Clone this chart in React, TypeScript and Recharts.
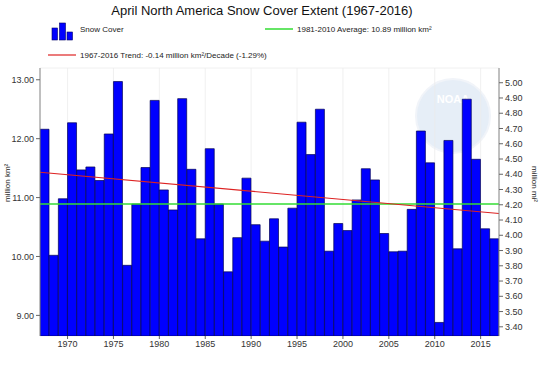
import { Bar, BarChart, CartesianGrid, ReferenceLine, XAxis, YAxis } from "recharts";

const years = [
	1967, 1968, 1969, 1970, 1971, 1972, 1973, 1974, 1975, 1976,
	1977, 1978, 1979, 1980, 1981, 1982, 1983, 1984, 1985, 1986,
	1987, 1988, 1989, 1990, 1991, 1992, 1993, 1994, 1995, 1996,
	1997, 1998, 1999, 2000, 2001, 2002, 2003, 2004, 2005, 2006,
	2007, 2008, 2009, 2010, 2011, 2012, 2013, 2014, 2015, 2016,
];

// million km²
const extent = [
	12.16, 10.02, 10.98, 12.27, 11.47, 11.52, 11.29, 12.08, 12.97, 9.85,
	10.89, 11.51, 12.65, 11.13, 10.79, 12.68, 11.48, 10.3, 11.83, 10.89,
	9.74, 10.32, 11.33, 10.54, 10.26, 10.64, 10.16, 10.82, 12.28, 11.73,
	12.5, 10.09, 10.56, 10.44, 10.96, 11.49, 11.3, 10.39, 10.08, 10.09,
	10.8, 12.13, 11.59, 8.88, 11.97, 10.13, 12.67, 11.65, 10.47, 10.3,
];

const average = 10.89;
const trendStart = { year: 1967, value: 11.43 };
const trendEnd = { year: 2017, value: 10.73 };

const kmTicks = [9, 10, 11, 12, 13];
const miTicks = [3.4, 3.5, 3.6, 3.7, 3.8, 3.9, 4.0, 4.1, 4.2, 4.3, 4.4, 4.5, 4.6, 4.7, 4.8, 4.9, 5.0];
const yearTicks = [1970, 1975, 1980, 1985, 1990, 1995, 2000, 2005, 2010, 2015];

const KM_PER_MI = 2.59;
const kmDomain: [number, number] = [8.65, 13.2];
const miDomain: [number, number] = [kmDomain[0] / KM_PER_MI, kmDomain[1] / KM_PER_MI];

const data = years.map((y, i) => ({ x: y + 0.5, year: y, extent: extent[i] }));

const FONT = "'Liberation Sans', Arial, sans-serif";
const tickStyle = { fill: "#333", fontSize: 9, fontFamily: FONT };

export default function App() {
	return (
		<div style={{ position: "relative", width: 540, height: 365, background: "#fff", fontFamily: FONT }}>
			<style>{`body{margin:0}`}</style>
			<div style={{ position: "absolute", top: 3, left: 0, width: 524, textAlign: "center", fontSize: 13, color: "#111" }}>
				April North America Snow Cover Extent (1967-2016)
			</div>
			{/* NOAA watermark */}
			<div
				style={{
					position: "absolute",
					left: 415,
					top: 78,
					width: 72,
					height: 72,
					borderRadius: "50%",
					background: "#e6eef7",
					border: "2px solid #f1f4f9",
					color: "#fff",
					fontSize: 11,
					fontWeight: "bold",
					textAlign: "center",
					lineHeight: "38px",
				}}
			>
				NOAA
			</div>
			{/* legend */}
			<svg style={{ position: "absolute", left: 0, top: 0 }} width={540} height={68}>
				<rect x={52} y={28} width={5.5} height={12} fill="#0000ff" stroke="#000066" strokeWidth={0.6} />
				<rect x={59.5} y={23} width={6} height={17} fill="#0000ff" stroke="#000066" strokeWidth={0.6} />
				<rect x={67} y={32} width={5.5} height={8} fill="#0000ff" stroke="#000066" strokeWidth={0.6} />
				<text x={80} y={32} fontSize={8} fill="#222" fontFamily={FONT}>Snow Cover</text>
				<line x1={265} x2={293} y1={29} y2={29} stroke="#33dd33" strokeWidth={1.5} />
				<text x={297} y={32} fontSize={8} fill="#222" fontFamily={FONT}>1981-2010 Average: 10.89 million km²</text>
				<line x1={48} x2={76} y1={55} y2={55} stroke="#dd2222" strokeWidth={1.2} />
				<text x={80} y={58} fontSize={8} fill="#222" fontFamily={FONT}>1967-2016 Trend: -0.14 million km²/Decade (-1.29%)</text>
			</svg>
			<BarChart
				width={540}
				height={365}
				data={data}
				margin={{ top: 68, right: 0, left: 0, bottom: 0 }}
				barCategoryGap={0}
				barGap={0}
				style={{ position: "absolute", left: 0, top: 0 }}
			>
				<CartesianGrid stroke="#ececec" strokeWidth={0.8} />
				<XAxis
					dataKey="x"
					type="number"
					domain={[1967, 2017]}
					ticks={yearTicks}
					allowDataOverflow
					height={29}
					tick={tickStyle}
					tickSize={3}
					tickLine={{ stroke: "#666" }}
					axisLine={false}
				/>
				<YAxis
					yAxisId="km"
					domain={kmDomain}
					ticks={kmTicks}
					allowDataOverflow
					width={40}
					tick={tickStyle}
					tickSize={4}
					tickLine={{ stroke: "#666" }}
					axisLine={{ stroke: "#888" }}
					tickFormatter={(v: number) => v.toFixed(2)}
					label={{ value: "million km²", angle: -90, position: "insideLeft", offset: 7, fontSize: 8, fill: "#222", fontFamily: FONT }}
				/>
				<YAxis
					yAxisId="mi"
					orientation="right"
					domain={miDomain}
					ticks={miTicks}
					allowDataOverflow
					width={41}
					tick={tickStyle}
					tickSize={4}
					tickLine={{ stroke: "#666" }}
					axisLine={{ stroke: "#888" }}
					tickFormatter={(v: number) => v.toFixed(2)}
					label={{ value: "million mi²", angle: 90, position: "insideRight", offset: 5, fontSize: 8, fill: "#222", fontFamily: FONT }}
				/>
				<Bar yAxisId="km" dataKey="extent" fill="#0000ff" stroke="#000055" strokeWidth={0.7} isAnimationActive={false} />
				<ReferenceLine yAxisId="km" y={average} stroke="#33dd33" strokeWidth={1.5} />
				<ReferenceLine
					yAxisId="km"
					segment={[
						{ x: trendStart.year, y: trendStart.value },
						{ x: trendEnd.year, y: trendEnd.value },
					]}
					stroke="#dd2222"
					strokeWidth={1.2}
				/>
			</BarChart>
		</div>
	);
}
